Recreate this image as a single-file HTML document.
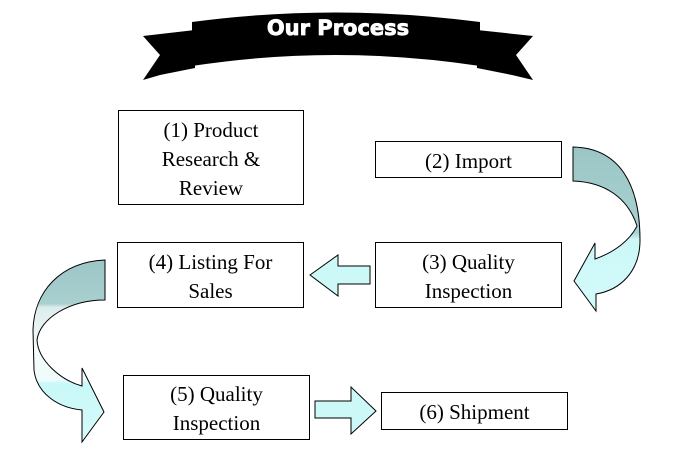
<!DOCTYPE html>
<html><head><style>
body{margin:0;background:#fff;width:675px;height:463px;overflow:hidden;position:relative;font-family:"Liberation Serif",serif;}
.b{position:absolute;border:1px solid #000;box-sizing:border-box;display:flex;align-items:center;justify-content:center;text-align:center;font-size:21px;line-height:29px;padding-top:3px;color:#000;background:#fff;}
svg{position:absolute;left:0;top:0}
</style></head><body>
<svg width="675" height="463">
<defs>
<linearGradient id="g1" x1="0" y1="147" x2="0" y2="312" gradientUnits="userSpaceOnUse">
<stop offset="0" stop-color="#9cc6c6"/><stop offset="0.52" stop-color="#a8d2d2"/><stop offset="0.56" stop-color="#ccf8f8"/><stop offset="1" stop-color="#d4fafa"/></linearGradient>
<linearGradient id="g2" x1="0" y1="260" x2="0" y2="442" gradientUnits="userSpaceOnUse">
<stop offset="0" stop-color="#9cc6c6"/><stop offset="0.24" stop-color="#a9cfcf"/><stop offset="0.26" stop-color="#dcecec"/><stop offset="0.5" stop-color="#f4fcfc"/><stop offset="0.66" stop-color="#eefcfc"/><stop offset="0.68" stop-color="#c8f8f8"/><stop offset="1" stop-color="#d8fafa"/></linearGradient>
</defs>
<path d="M143,36 L195,30 L195,68 L160,75 L143,80 L160,55 Z" fill="#000"/>
<path d="M533,36 L477,30 L477,68 L512,75 L533,80 L516,55 Z" fill="#000"/>
<path d="M192,22 Q335,3 480,22 L480,66 Q335,44 192,66 Z" fill="#000"/>
<text x="338" y="35" text-anchor="middle" fill="#fff" font-family="'DejaVu Sans','Liberation Sans',sans-serif" font-weight="bold" font-size="21" stroke="#fff" stroke-width="0.8">Our Process</text>
<path d="M573,147 C620,148 640,185 640,240 C640,272 620,290 596,294 L596,311 L574,281 L595,243 L595,259 C615,252 630,240 637,226 C628,198 605,182 573,181 Z" fill="url(#g1)" stroke="#000" stroke-width="1"/>
<path d="M105,260 C60,262 34,292 33,330 L34,370 C37,395 60,408 82,410 L82,442 L104,412 L82,368 L82,386 C60,380 38,360 37,340 C40,318 70,300 105,300 Z" fill="url(#g2)" stroke="#000" stroke-width="1"/>
<path d="M310,275 L338,255 L338,266 L370,266 L370,284 L338,284 L338,296 Z" fill="#ccf8f8" stroke="#000"/>
<path d="M315,401 L351,401 L351,387 L376,411 L351,434 L351,418 L315,418 Z" fill="#ccf8f8" stroke="#000"/>
</svg>
<div class="b" style="left:118px;top:110px;width:186px;height:95px">(1) Product<br>Research &amp;<br>Review</div>
<div class="b" style="left:375px;top:141px;width:187px;height:37px">(2) Import</div>
<div class="b" style="left:375px;top:242px;width:187px;height:66px">(3) Quality<br>Inspection</div>
<div class="b" style="left:117px;top:242px;width:187px;height:66px">(4) Listing For<br>Sales</div>
<div class="b" style="left:123px;top:375px;width:187px;height:65px">(5) Quality<br>Inspection</div>
<div class="b" style="left:381px;top:392px;width:187px;height:38px">(6) Shipment</div>
</body></html>
